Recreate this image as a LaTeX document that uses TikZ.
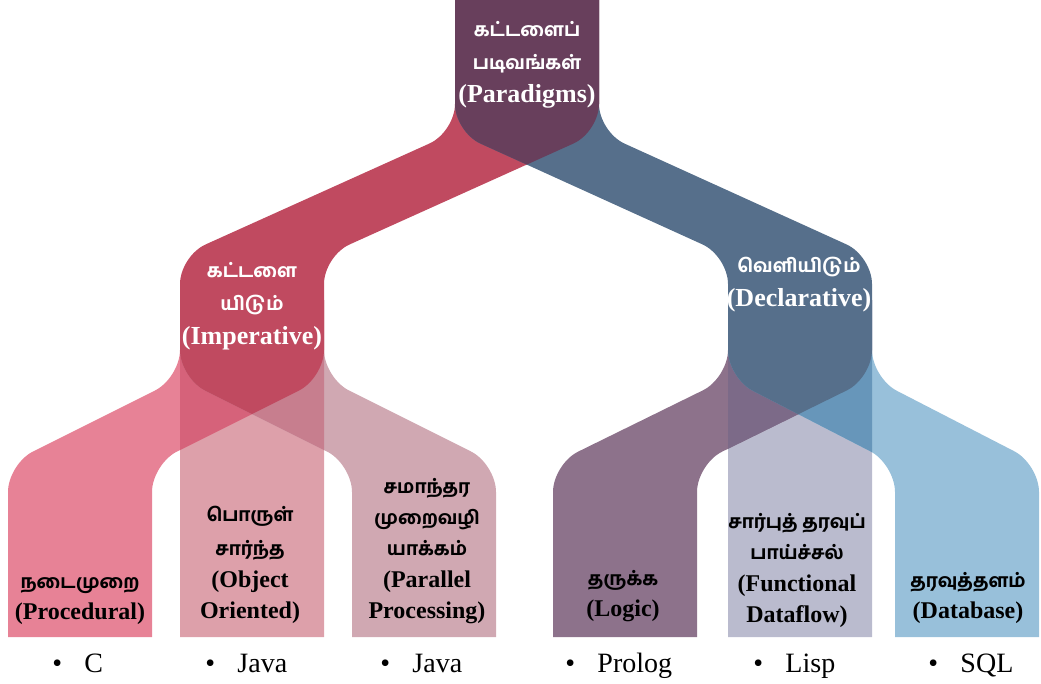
\documentclass[tikz,border=0pt]{standalone}
\usepackage{fontspec}
\setmainfont{Liberation Serif}
\newfontfamily\tamilfont[Script=Tamil, BoldFont={Hind Madurai Bold}]{Hind Madurai}
\usepackage{xcolor}
\definecolor{impred}{RGB}{192,74,96}
\definecolor{decblue}{RGB}{86,111,139}
\definecolor{pdmpurple}{RGB}{104,63,92}
\definecolor{proccol}{RGB}{231,130,150}
\definecolor{oocol}{RGB}{221,160,170}
\definecolor{parcol}{RGB}{208,168,178}
\definecolor{procoo}{RGB}{214,98,122}
\definecolor{paroo}{RGB}{199,126,142}
\definecolor{logiccol}{RGB}{141,114,139}
\definecolor{funccol}{RGB}{186,187,206}
\definecolor{dbcol}{RGB}{152,192,218}
\definecolor{logicfn}{RGB}{124,106,136}
\definecolor{dbfn}{RGB}{103,150,186}
\usepackage{tikz}

% ribbon: top y, top-left x, bottom-left x, bend-1 y, bend-2 y, bottom y (width 144)
\newcommand{\band}[6]{(#2,#1) [rounded corners=21pt] -- (#2,#4) -- (#3,#5) [sharp corners] -- (#3,#6) -- (#3+144,#6) [rounded corners=21pt] -- (#3+144,#5) -- (#2+144,#4) [sharp corners] -- (#2+144,#1) -- cycle}
\newcommand{\tamtxt}[1]{{\tamilfont\fontsize{14}{20}\selectfont #1}}

\begin{document}
\begin{tikzpicture}[x=0.75pt, y=-0.75pt, every node/.style={inner sep=0pt, align=center},
  toplbl/.style={text=white, font=\bfseries\fontsize{19.5}{25}\selectfont, anchor=south},
  botlbl/.style={text=black, font=\bfseries\fontsize{18}{23.5}\selectfont, anchor=south},
  langlbl/.style={font=\fontsize{21}{25}\selectfont, anchor=base west}]
  \useasboundingbox (0,0) rectangle (1041,684);
  % upper split
  \fill[impred] \band{0}{455}{180}{132}{256}{380};
  \fill[decblue] \band{0}{455}{728}{132}{256}{380};
  \begin{scope}
    \clip \band{0}{455}{180}{132}{256}{380};
    \fill[pdmpurple] \band{0}{455}{728}{132}{256}{380};
  \end{scope}
  % imperative split
  \fill[oocol] \band{300}{180}{180}{378}{464}{637};
  \fill[proccol] \band{300}{180}{8}{378}{464}{637};
  \fill[parcol] \band{300}{180}{352}{378}{464}{637};
  \begin{scope}
    \clip \band{300}{180}{180}{378}{464}{637};
    \fill[procoo] \band{300}{180}{8}{378}{464}{637};
    \fill[paroo] \band{300}{180}{352}{378}{464}{637};
  \end{scope}
  \begin{scope}
    \clip \band{300}{180}{8}{378}{464}{637};
    \fill[impred] \band{300}{180}{352}{378}{464}{637};
  \end{scope}
  % declarative split
  \fill[funccol] \band{300}{728}{728}{378}{464}{637};
  \fill[logiccol] \band{300}{728}{553}{378}{464}{637};
  \fill[dbcol] \band{300}{728}{895}{378}{464}{637};
  \begin{scope}
    \clip \band{300}{728}{728}{378}{464}{637};
    \fill[logicfn] \band{300}{728}{553}{378}{464}{637};
    \fill[dbfn] \band{300}{728}{895}{378}{464}{637};
  \end{scope}
  \begin{scope}
    \clip \band{300}{728}{553}{378}{464}{637};
    \fill[decblue] \band{300}{728}{895}{378}{464}{637};
  \end{scope}
  % labels
  \node[toplbl] (pdm) at (527,109) {\tamtxt{கட்டளைப்}\\\tamtxt{படிவங்கள்}\\(Paradigms)};
  \node[toplbl] (imp) at (252,350) {\tamtxt{கட்டளை}\\\tamtxt{யிடும்}\\(Imperative)};
  \node[toplbl] (dec) at (799,312) {\tamtxt{வெளியிடும்}\\(Declarative)};
  \node[botlbl] (proc) at (80,625) {\tamtxt{நடைமுறை}\\(Procedural)};
  \node[botlbl] (oop) at (250,624) {\tamtxt{பொருள்}\\[2pt]\tamtxt{சார்ந்த}\\(Object\\Oriented)};
  \node[botlbl] (par) at (427,624) {\tamtxt{சமாந்தர}\\\tamtxt{முறைவழி}\\\tamtxt{யாக்கம்}\\(Parallel\\Processing)};
  \node[botlbl] (logic) at (623,622) {\tamtxt{தருக்க}\\(Logic)};
  \node[botlbl] (func) at (797,628) {\tamtxt{சார்புத் தரவுப்}\\\tamtxt{பாய்ச்சல்}\\(Functional\\Dataflow)};
  \node[botlbl] (dbase) at (968,624) {\tamtxt{தரவுத்தளம்}\\(Database)};
  \foreach \bx/\lang [count=\i] in {52/C, 205/Java, 380/Java, 565/Prolog, 753/Lisp, 928/SQL}
    \node[langlbl] (lang\i) at (\bx,672) {\textbullet\hspace{0.8em}\lang};
\end{tikzpicture}
\end{document}
